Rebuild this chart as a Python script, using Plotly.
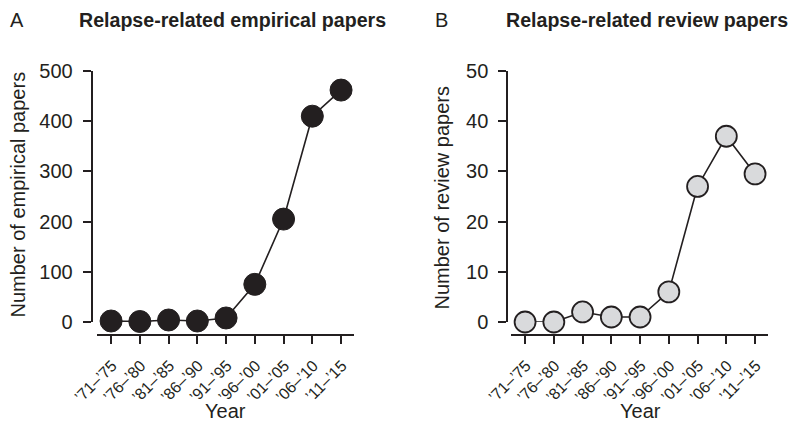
import plotly.graph_objects as go

categories = ["\u201971\u2013\u201975", "\u201976\u2013\u201980", "\u201981\u2013\u201985", "\u201986\u2013\u201990",
              "\u201991\u2013\u201995", "\u201996\u2013\u201900", "\u201901\u2013\u201905", "\u201906\u2013\u201910",
              "\u201911\u2013\u201915"]
empirical = [2, 1, 4, 2, 8, 75, 205, 410, 462]
review = [0, 0, 2, 1, 1, 6, 27, 37, 29.5]
empirical_ticks = [0, 100, 200, 300, 400, 500]
review_ticks = [0, 10, 20, 30, 40, 50]

# the page body has an 8px margin; lay out in reference-pixel coordinates
OFF = 8
W, H = 801 - OFF, 422 - OFF
INK = "#231f20"
FONT = "Liberation Sans, Arial, sans-serif"

def px(v):
    return (v - OFF) / W

def py(v):
    return 1 - (v - OFF) / H

fig = go.Figure()
xi = list(range(len(categories)))

fig.add_trace(go.Scatter(
    x=xi, y=empirical, mode="lines+markers", xaxis="x", yaxis="y",
    line=dict(color=INK, width=1.6),
    marker=dict(size=22, color=INK, line=dict(color=INK, width=1)),
    cliponaxis=False, showlegend=False))
fig.add_trace(go.Scatter(
    x=xi, y=review, mode="lines+markers", xaxis="x2", yaxis="y2",
    line=dict(color=INK, width=1.6),
    marker=dict(size=21, color="#d9dadc", line=dict(color=INK, width=1.8)),
    cliponaxis=False, showlegend=False))

xcommon = dict(
    tickmode="array", tickvals=xi, ticktext=categories, tickangle=-45,
    range=[-0.49, 8.45], showgrid=False, zeroline=False,
    showline=True, linecolor=INK, linewidth=2,
    ticks="outside", ticklen=8, tickwidth=2, tickcolor=INK,
    tickfont=dict(family=FONT, size=16, color=INK),
    ticklabelstandoff=6, ticklabelshift=1,
    anchor="free", position=py(335), fixedrange=True, automargin=False)
ycommon = dict(
    domain=[py(322), py(71)], showgrid=False, zeroline=False,
    showline=True, linecolor=INK, linewidth=2,
    ticks="outside", ticklen=8, tickwidth=2, tickcolor=INK,
    tickfont=dict(family=FONT, size=20, color=INK),
    ticklabelstandoff=6, anchor="free", fixedrange=True, automargin=False)

fig.update_layout(
    template="none",
    width=W, height=H, margin=dict(l=0, r=0, t=0, b=0, autoexpand=False),
    plot_bgcolor="white", paper_bgcolor="white",
    xaxis=dict(domain=[px(97), px(354)], **xcommon),
    xaxis2=dict(domain=[px(511), px(768)], **xcommon),
    yaxis=dict(range=[0, 500], tickvals=empirical_ticks, position=px(91.7), **ycommon),
    yaxis2=dict(range=[0, 50], tickvals=review_ticks, position=px(507.3), **ycommon),
)

def ann(text, x, y, size=20, bold=False, angle=0):
    fig.add_annotation(
        text=f"<b>{text}</b>" if bold else text, x=px(x), y=py(y),
        xref="paper", yref="paper", showarrow=False, textangle=angle,
        xanchor="center", yanchor="middle",
        font=dict(family=FONT, size=size, color=INK))

ann("A", 16.5, 20)
ann("B", 441.5, 20)
ann("Relapse-related empirical papers", 232, 20, size=19.6, bold=True)
ann("Relapse-related review papers", 647, 20, size=19.6, bold=True)
ann("Number of empirical papers", 17.5, 195, angle=-90)
ann("Number of review papers", 441.5, 198, angle=-90)
ann("Year", 225, 411)
ann("Year", 640, 411)

fig.write_html("out.html")
